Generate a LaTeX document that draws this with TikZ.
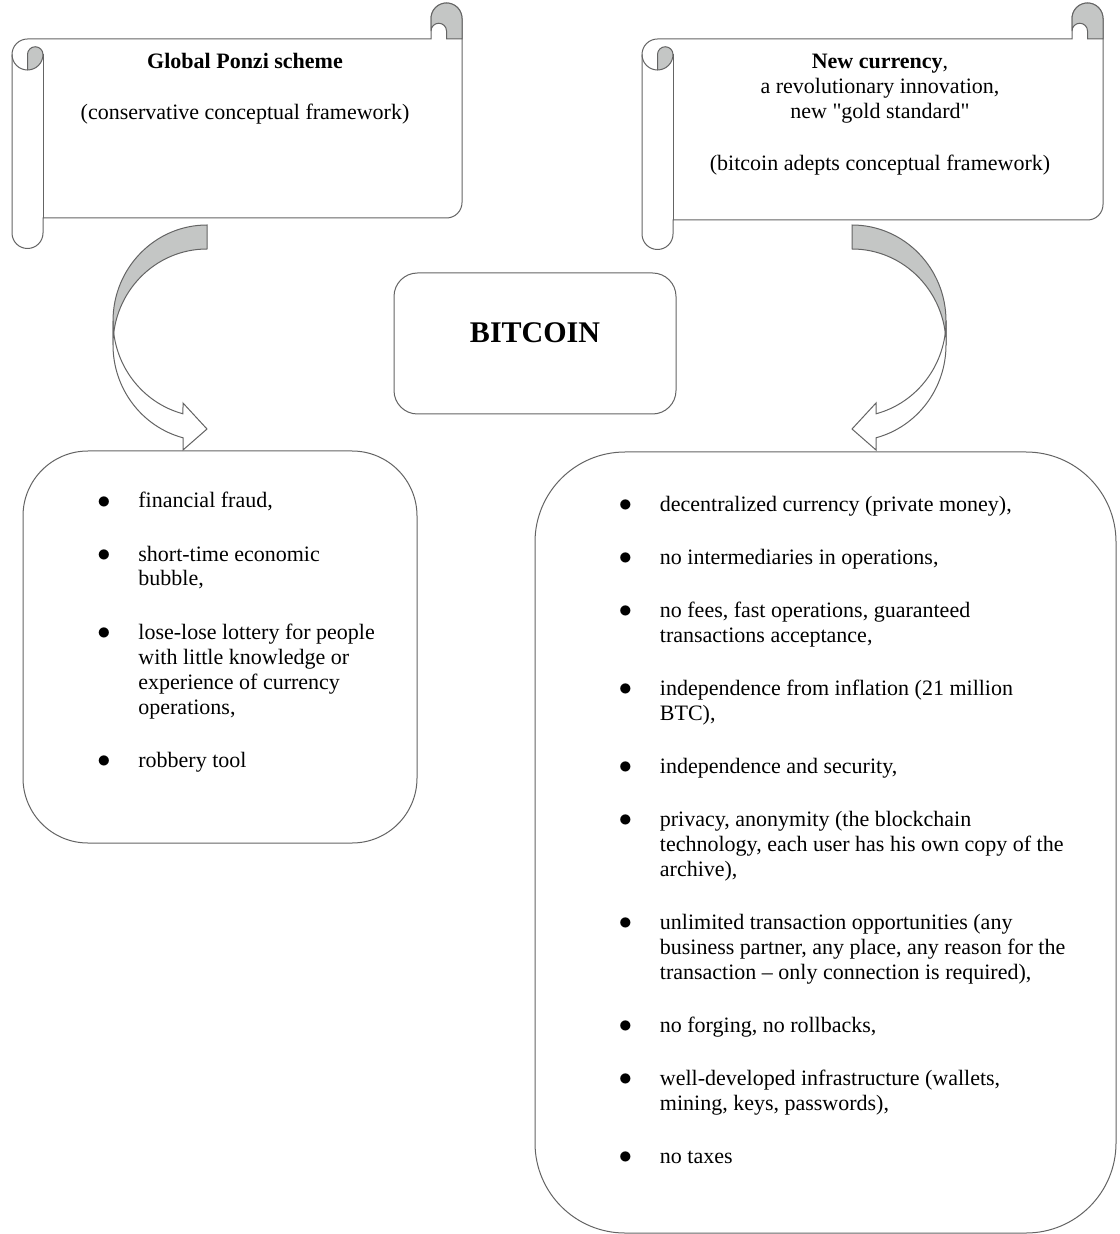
\documentclass[tikz,border=0pt]{standalone}
\usepackage{fontspec}
\setmainfont{Liberation Serif}
\usetikzlibrary{positioning,calc}

\definecolor{curlgray}{RGB}{196,198,197}
\definecolor{edgegray}{RGB}{100,100,100}
\tikzset{
  scrollline/.style={draw=edgegray, line width=0.5pt},
  listbox/.style={draw=edgegray, line width=0.5pt, rectangle, inner sep=0pt},
  listtext/.style={anchor=base west, inner sep=0pt},
  headtext/.style={anchor=base, inner sep=0pt},
}
\newcommand{\bul}{\makebox[20.5pt][l]{\raisebox{-0.3pt}{\scalebox{1.2}{$\bullet$}}}}
\newcommand{\ind}{\hspace*{20.5pt}}

% scroll: #1 left, #2 right, #3 sheet bottom, #4 roll bottom
\newcommand{\drawscroll}[4]{%
  \draw[scrollline, fill=white] (#1,54.5) arc[start angle=180, end angle=270, radius=15.5]
    -- ({#2-31},39) -- ({#2-31},18.5) arc[start angle=180, end angle=360, radius=15.5]
    -- (#2,{#3-15.5}) arc[start angle=0, end angle=90, radius=15.5]
    -- ({#1+31},#3) -- ({#1+31},{#4-15.5}) arc[start angle=0, end angle=180, radius=15.5] -- cycle;
  \draw[scrollline, fill=curlgray] ({#2-31},18.5) arc[start angle=180, end angle=360, radius=15.5]
    -- (#2,39) -- ({#2-15.5},39) -- ({#2-15.5},31) arc[start angle=0, end angle=-180, radius=7.75] -- cycle;
  \draw[scrollline, fill=curlgray] ({#1+31},54.5) arc[start angle=0, end angle=90, radius=15.5]
    -- ({#1+15.5},54.5) arc[start angle=180, end angle=360, radius=7.75] -- cycle;
  \draw[scrollline] (#1,54.5) arc[start angle=180, end angle=90, radius=15.5];
  \draw[scrollline] ({#1+31},54.5) -- ({#1+31},#3);
}

% curved block arrow
\newcommand{\bendarrow}{%
  \draw[scrollline, fill=curlgray] (207,225) arc[start angle=270, end angle=180, x radius=94, y radius=96]
    -- (113,345) arc[start angle=180, end angle=270, x radius=94, y radius=96] -- cycle;
  \draw[scrollline, fill=white] (113,321) arc[start angle=180, end angle=104.8, x radius=94, y radius=96]
    -- (183,403) -- (207,429) -- (183,450) -- (183,437.8)
    arc[start angle=104.8, end angle=180, x radius=94, y radius=96] -- cycle;
}

\begin{document}
\begin{tikzpicture}[x=0.5pt, y=-0.5pt, font=\fontsize{11}{12.5}\selectfont]
  \fill[white] (0,0) rectangle (1119,1234);
  \useasboundingbox (0,0) rectangle (1119,1234);

  % Scrolls
  \drawscroll{12}{462}{218}{248.5}
  \drawscroll{642}{1103}{220}{249.5}
  \node[headtext] (ponzi) at (245,69) {\begin{tabular}[t]{@{}c@{}}
      \textbf{Global Ponzi scheme}\\[13pt]
      (conservative conceptual framework)
    \end{tabular}};
  \node[headtext] (newcurrency) at (880,69) {\begin{tabular}[t]{@{}c@{}}
      \textbf{New currency},\\
      a revolutionary innovation,\\
      new \textquotedbl gold standard\textquotedbl\\[13.5pt]
      (bitcoin adepts conceptual framework)
    \end{tabular}};

  % Arrows
  \bendarrow
  \begin{scope}[shift={(1059,0)}, xscale=-1]
    \bendarrow
  \end{scope}

  % Centre
  \node[listbox, rounded corners=11.75pt, minimum width=141pt, minimum height=70.5pt] (bitcoinbox) at (535,343.5) {};
  \node[headtext, font=\fontsize{15}{18}\selectfont\bfseries] (bitcoin) at (535,343) {BITCOIN};

  % Left list
  \node[listbox, rounded corners=32.5pt, minimum width=197pt, minimum height=196pt] (fraudbox) at (220,647) {};
  \node[listtext] (fraudlist) at (97,508) {\begin{tabular}[t]{@{}l@{}}
      \bul financial fraud,\\[14pt]
      \bul short-time economic\\
      \ind bubble,\\[14pt]
      \bul lose-lose lottery for people\\
      \ind with little knowledge or\\
      \ind experience of currency\\
      \ind operations,\\[14pt]
      \bul robbery tool
    \end{tabular}};

  % Right list
  \node[listbox, rounded corners=45pt, minimum width=290.5pt, minimum height=390.5pt] (adeptbox) at (825.5,842.5) {};
  \node[listtext] (adeptlist) at (618.5,511) {\begin{tabular}[t]{@{}l@{}}
      \bul decentralized currency (private money),\\[14pt]
      \bul no intermediaries in operations,\\[14pt]
      \bul no fees, fast operations, guaranteed\\
      \ind transactions acceptance,\\[14pt]
      \bul independence from inflation (21 million\\
      \ind BTC),\\[14pt]
      \bul independence and security,\\[14pt]
      \bul privacy, anonymity (the blockchain\\
      \ind technology, each user has his own copy of the\\
      \ind archive),\\[14pt]
      \bul unlimited transaction opportunities (any\\
      \ind business partner, any place, any reason for the\\
      \ind transaction -- only connection is required),\\[14pt]
      \bul no forging, no rollbacks,\\[14pt]
      \bul well-developed infrastructure (wallets,\\
      \ind mining, keys, passwords),\\[14pt]
      \bul no taxes
    \end{tabular}};
\end{tikzpicture}
\end{document}
